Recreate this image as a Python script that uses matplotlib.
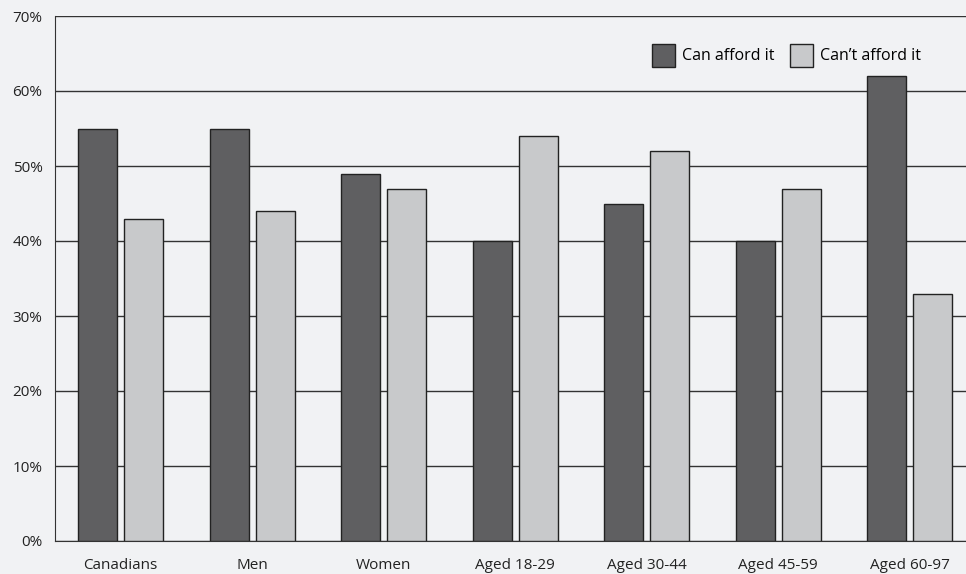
import numpy as np
import matplotlib.pyplot as plt
from matplotlib.patches import Patch

categories = ["Canadians", "Men", "Women", "Aged 18-29", "Aged 30-44", "Aged 45-59", "Aged 60-97"]
can_afford = [55, 55, 49, 40, 45, 40, 62]
cant_afford = [43, 44, 47, 54, 52, 47, 33]
y_ticks = [0, 10, 20, 30, 40, 50, 60, 70]
y_labels = [f"{v}%" for v in y_ticks]

bg = "#f1f2f4"
dark = "#5f5f61"
light = "#c8c9cb"

plt.rcParams["font.family"] = ["Open Sans", "DejaVu Sans"]

fig = plt.figure(figsize=(9.66, 5.74), dpi=100, facecolor=bg)
ax = fig.add_axes([55 / 966, 33 / 574, 911 / 966, 525 / 574], facecolor=bg)

x = np.arange(len(categories))
w = 0.297
off = 0.175
ax.bar(x - off, can_afford, w, color=dark, edgecolor="#222222", linewidth=1, zorder=3)
ax.bar(x + off, cant_afford, w, color=light, edgecolor="#222222", linewidth=1, zorder=3)

ax.set_xlim(-0.5, 911 / 131.5 - 0.5)
ax.set_ylim(0, 70)
ax.set_yticks(y_ticks)
ax.set_yticklabels(y_labels, fontsize=11, color="#222222")
ax.set_xticks(x)
ax.set_xticklabels(categories, fontsize=11, color="#222222")
ax.tick_params(axis="y", length=0, pad=9)
ax.tick_params(axis="x", length=0, pad=12)
ax.yaxis.grid(True, color="#333333", linewidth=1, zorder=1)
ax.set_axisbelow(True)

for s in ["top", "right"]:
    ax.spines[s].set_visible(False)
ax.spines["left"].set_color("#333333")
ax.spines["bottom"].set_color("#333333")

handles = [Patch(facecolor=dark, edgecolor="#222222", label="Can afford it"),
           Patch(facecolor=light, edgecolor="#222222", label="Can\u2019t afford it")]
fig.legend(handles=handles, loc="upper left", bbox_to_anchor=(644 / 966, 1 - 36 / 574),
           ncol=2, frameon=False, fontsize=11.5, borderpad=0, handlelength=1.45,
           handleheight=1.8, handletextpad=0.4, columnspacing=1.0)

fig.savefig("out.png", dpi=100, facecolor=bg)
